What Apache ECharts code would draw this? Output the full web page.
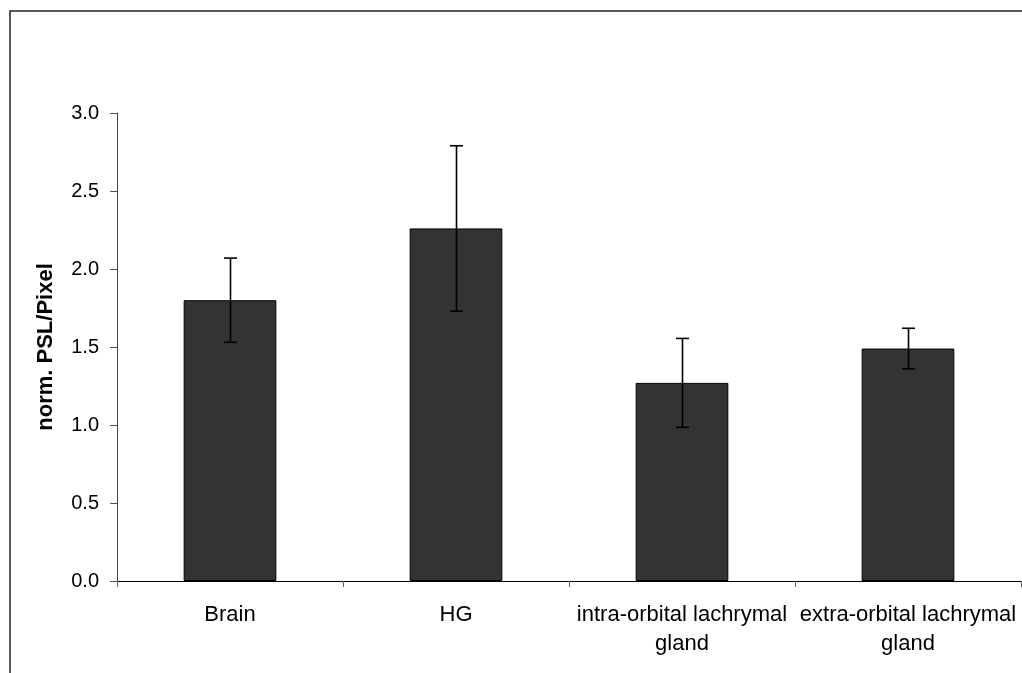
<!DOCTYPE html>
<html>
<head>
<meta charset="utf-8">
<script src="https://cdn.jsdelivr.net/npm/echarts@6/dist/echarts.min.js"></script>
<style>
html,body{margin:0;padding:0;background:#fff;}
#chart{width:1022px;height:673px;}
</style>
</head>
<body>
<div id="chart"></div>
<script>
var categories = ['Brain', 'HG', 'intra-orbital lachrymal\ngland', 'extra-orbital lachrymal\ngland'];
var means = [1.80, 2.26, 1.27, 1.49];
var errors = [0.27, 0.53, 0.285, 0.13];
var yTicks = [0, 0.5, 1.0, 1.5, 2.0, 2.5, 3.0];

var chart = echarts.init(document.getElementById('chart'), null, {renderer: 'canvas'});
var errData = categories.map(function (c, i) {
  return [i, means[i] - errors[i], means[i] + errors[i]];
});
var FONT = 'Liberation Sans, Arial, sans-serif';
chart.setOption({
  animation: false,
  backgroundColor: '#fff',
  graphic: [{
    type: 'rect',
    shape: {x: 10, y: 11, width: 1200, height: 1000},
    style: {fill: 'none', stroke: '#222', lineWidth: 1.5},
    silent: true
  }],
  grid: {left: 117, right: 1, top: 113, bottom: 92, containLabel: false},
  xAxis: {
    type: 'category',
    data: categories,
    axisLine: {show: true, lineStyle: {color: '#000', width: 1}},
    axisTick: {show: true, alignWithLabel: false, length: 6, lineStyle: {color: '#666'}},
    axisLabel: {color: '#000', fontFamily: FONT, fontSize: 22, margin: 19, lineHeight: 29, interval: 0},
    splitLine: {show: false}
  },
  yAxis: {
    type: 'value',
    min: yTicks[0],
    max: yTicks[yTicks.length - 1],
    interval: 0.5,
    name: 'norm. PSL/Pixel',
    nameLocation: 'middle',
    nameGap: 60,
    nameRotate: 90,
    nameTextStyle: {color: '#000', fontFamily: FONT, fontSize: 22, fontWeight: 'bold'},
    axisLine: {show: true, lineStyle: {color: '#444', width: 1}},
    axisTick: {show: true, inside: false, length: 7, lineStyle: {color: '#555'}},
    axisLabel: {color: '#000', fontFamily: FONT, fontSize: 20, margin: 18,
      formatter: function (v) { return v.toFixed(1); }},
    splitLine: {show: false}
  },
  series: [{
    type: 'bar',
    data: means,
    barWidth: '41%',
    itemStyle: {color: '#333333', borderColor: '#000', borderWidth: 1},
    z: 2
  }, {
    type: 'custom',
    data: errData,
    z: 3,
    renderItem: function (params, api) {
      var x = api.value(0);
      var lo = api.coord([x, api.value(1)]);
      var hi = api.coord([x, api.value(2)]);
      var cx = Math.round(lo[0]) + 0.5;
      var cap = 6.5;
      var st = {stroke: '#000', lineWidth: 1.6};
      return {
        type: 'group',
        children: [
          {type: 'line', shape: {x1: cx, y1: hi[1], x2: cx, y2: lo[1]}, style: st},
          {type: 'line', shape: {x1: cx - cap, y1: hi[1], x2: cx + cap, y2: hi[1]}, style: st},
          {type: 'line', shape: {x1: cx - cap, y1: lo[1], x2: cx + cap, y2: lo[1]}, style: st}
        ]
      };
    }
  }]
});
</script>
</body>
</html>
